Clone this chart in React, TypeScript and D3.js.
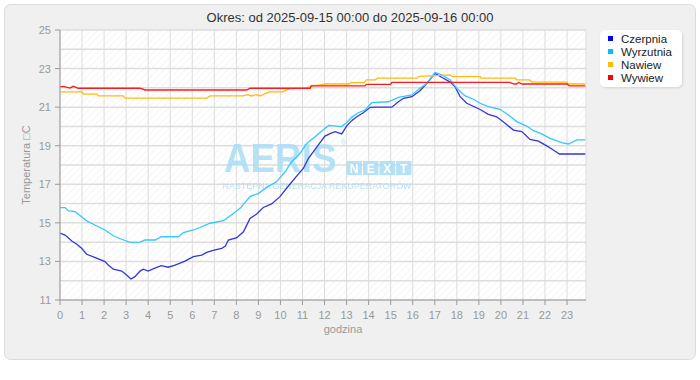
import React from "react";
import * as d3 from "d3";

const titleText = "Okres: od 2025-09-15 00:00 do 2025-09-16 00:00";
const yTicks = [11, 13, 15, 17, 19, 21, 23, 25];
const yGrid = [11, 12, 13, 14, 15, 16, 17, 18, 19, 20, 21, 22, 23, 24, 25];
const xTicks = d3.range(0, 24);

const seriesNames = ["Czerpnia", "Wyrzutnia", "Nawiew", "Wywiew"];
const lineColors = ["#3535dc", "#33c8ff", "#ffbb11", "#ff1a1a"];
const legendColors = ["#0000ff", "#00bfff", "#ffbb00", "#ff0000"];

const czerpnia: [number, number][] = [
  [0, 14.47], [0.25, 14.35], [0.53, 14.06], [0.75, 13.9], [0.98, 13.68], [1.21, 13.37], [1.6, 13.2],
  [2.04, 12.99], [2.2, 12.8], [2.42, 12.6], [2.8, 12.5], [3.02, 12.3], [3.22, 12.09], [3.4, 12.21],
  [3.63, 12.5], [3.78, 12.6], [4.0, 12.5], [4.3, 12.65], [4.6, 12.78], [4.91, 12.7], [5.22, 12.81],
  [5.67, 13.02], [6.05, 13.25], [6.43, 13.33], [6.65, 13.47], [7.03, 13.6], [7.34, 13.68], [7.5, 13.8],
  [7.64, 14.11], [8.02, 14.23], [8.32, 14.54], [8.62, 15.23], [8.92, 15.46], [9.22, 15.8], [9.6, 15.98],
  [9.98, 16.36], [10.36, 16.91], [10.81, 17.53], [11.04, 17.83], [11.27, 18.35], [11.72, 19.04],
  [12.02, 19.5], [12.3, 19.65], [12.48, 19.73], [12.78, 19.61], [13.0, 20.02], [13.23, 20.3],
  [13.46, 20.5], [13.76, 20.71], [14.07, 20.99], [14.29, 21.0], [15.05, 21.0], [15.35, 21.28],
  [15.58, 21.46], [15.96, 21.54], [16.33, 21.85], [16.64, 22.23], [17.01, 22.75], [17.39, 22.5],
  [17.7, 22.3], [17.92, 22.06], [18.15, 21.54], [18.45, 21.2], [19.06, 20.88], [19.43, 20.63],
  [19.81, 20.5], [20.19, 20.16], [20.57, 19.81], [20.95, 19.73], [21.32, 19.33], [21.7, 19.24],
  [22.08, 18.99], [22.38, 18.78], [22.65, 18.57], [23.83, 18.57],
];

const wyrzutnia: [number, number][] = [
  [0, 15.79], [0.23, 15.79], [0.38, 15.62], [0.68, 15.58], [0.98, 15.32], [1.21, 15.1], [1.74, 14.8],
  [2.04, 14.63], [2.42, 14.33], [2.8, 14.15], [3.18, 13.99], [3.63, 14.0], [3.86, 14.11], [4.31, 14.11],
  [4.61, 14.28], [5.37, 14.28], [5.6, 14.5], [6.05, 14.63], [6.27, 14.72], [6.81, 14.98], [7.41, 15.11],
  [7.86, 15.49], [8.17, 15.75], [8.62, 16.36], [9.0, 16.53], [9.38, 16.84], [9.83, 17.14], [10.21, 17.65],
  [10.51, 18.17], [10.89, 18.6], [11.19, 19.12], [11.57, 19.47], [12.02, 19.9], [12.2, 20.05],
  [12.78, 19.99], [13.0, 20.19], [13.23, 20.47], [13.53, 20.71], [13.84, 20.85], [14.14, 21.23],
  [14.9, 21.28], [15.35, 21.51], [15.96, 21.63], [16.33, 21.98], [16.64, 22.23], [17.01, 22.79],
  [17.32, 22.67], [17.7, 22.41], [18.0, 21.98], [18.38, 21.58], [18.75, 21.41], [19.06, 21.2],
  [19.43, 21.03], [19.96, 20.89], [20.34, 20.59], [20.72, 20.25], [21.17, 20.02], [21.47, 19.78],
  [21.85, 19.61], [22.23, 19.38], [22.76, 19.16], [23.06, 19.09], [23.44, 19.3], [23.83, 19.3],
];

const nawiew: [number, number][] = [
  [0, 21.79], [1.0, 21.79], [1.06, 21.68], [1.67, 21.68], [1.74, 21.58], [2.87, 21.58], [2.95, 21.47],
  [6.66, 21.47], [6.81, 21.58], [8.3, 21.58], [8.5, 21.65], [8.7, 21.58], [8.9, 21.65], [9.1, 21.58],
  [9.3, 21.7], [9.5, 21.79], [10.1, 21.79], [10.4, 21.95], [11.2, 22.0], [11.4, 22.1], [11.8, 22.15],
  [12.0, 22.2], [13.1, 22.2], [13.2, 22.27], [13.8, 22.27], [13.9, 22.41], [14.3, 22.41], [14.4, 22.5],
  [16.2, 22.5], [16.3, 22.6], [17.7, 22.67], [17.8, 22.58], [19.06, 22.58], [19.1, 22.5], [20.65, 22.5],
  [20.72, 22.41], [21.3, 22.41], [21.4, 22.3], [23.0, 22.3], [23.05, 22.2], [23.83, 22.2],
];

const wywiew: [number, number][] = [
  [0, 22.06], [0.2, 22.06], [0.45, 21.99], [0.6, 22.08], [0.83, 21.98], [3.63, 21.98], [3.86, 21.89],
  [8.47, 21.89], [8.62, 21.98], [11.35, 21.98], [11.4, 22.1], [13.84, 22.1], [13.9, 22.18], [15.0, 22.18],
  [15.05, 22.28], [20.4, 22.28], [20.6, 22.2], [20.7, 22.2], [20.8, 22.28], [20.95, 22.2], [23.0, 22.2],
  [23.1, 22.1], [23.83, 22.1],
];

const allSeries = [czerpnia, wyrzutnia, nawiew, wywiew];
const nextLetters = ["N", "E", "X", "T"];

const FONT = "'Liberation Sans', Arial, sans-serif";

export default function App() {
  const left = 60, right = 586, top = 30, bottom = 300;
  const x = d3.scaleLinear().domain([0, 23.86]).range([left, right]);
  const y = d3.scaleLinear().domain([11, 25]).range([bottom, top]);
  const line = d3.line<[number, number]>().x(d => x(d[0])).y(d => y(d[1]));

  return (
    <svg width={700} height={380} style={{ position: "absolute", left: 0, top: 0 }} fontFamily={FONT}>
      <defs>
        <pattern id="hatch" width={5} height={5} patternUnits="userSpaceOnUse" patternTransform="rotate(45)">
          <line x1={0} y1={0} x2={0} y2={5} stroke="#ececec" strokeWidth={1} />
        </pattern>
        <filter id="sh" x="-10%" y="-10%" width="130%" height="140%">
          <feDropShadow dx={1} dy={1} stdDeviation={1} floodColor="#000" floodOpacity={0.12} />
        </filter>
        <clipPath id="plotclip">
          <rect x={left} y={top - 2} width={right - left} height={bottom - top + 2} />
        </clipPath>
      </defs>
      <rect x={0} y={0} width={700} height={380} fill="#ffffff" />
      <rect x={4.5} y={4.5} width={691} height={355} rx={6} fill="#f0f0f0" stroke="#dcdcdc" />
      <text x={350} y={22} textAnchor="middle" fontSize={13} fill="#333">{titleText}</text>

      {/* plot background */}
      <rect x={left} y={top} width={right - left} height={bottom - top} fill="#ffffff" />
      <rect x={left} y={top} width={right - left} height={bottom - top} fill="url(#hatch)" />

      {/* grid */}
      {yGrid.map(v => (
        <line key={"gy" + v} x1={left} x2={right} y1={y(v)} y2={y(v)} stroke="#dddddd" strokeWidth={1.5} />
      ))}
      {xTicks.map(h => (
        <line key={"gx" + h} x1={x(h)} x2={x(h)} y1={top} y2={bottom} stroke="#dddddd" strokeWidth={1} />
      ))}
      <line x1={right} x2={right} y1={top} y2={bottom} stroke="#dddddd" strokeWidth={1} />

      {/* watermark */}
      <g opacity={0.85}>
        <text transform="translate(224,172) scale(0.92,1)" fontSize={40} fontWeight="bold" fill="#a9def5">AERIS</text>
        <text x={341} y={145} fontSize={7} fill="#a9def5">®</text>
        {nextLetters.map((c, i) => (
          <g key={c}>
            <rect x={346.5 + i * 16.5} y={161} width={15.5} height={14} fill="#a9def5" />
            <text x={354.2 + i * 16.5} y={172.5} textAnchor="middle" fontSize={12} fontWeight="bold" fill="#ffffff">{c}</text>
          </g>
        ))}
        <text x={222.5} y={188.8} fontSize={8.5} fill="#a9def5" textLength={189} lengthAdjust="spacingAndGlyphs">NASTĘPNA GENERACJA REKUPERATORÓW</text>
      </g>

      {/* series */}
      <g clipPath="url(#plotclip)">
        {allSeries.map((s, i) => (
          <path key={seriesNames[i]} d={line(s) || ""} fill="none" stroke={lineColors[i]} strokeWidth={1.3} />
        ))}
      </g>

      {/* axes */}
      <line x1={left} x2={left} y1={top} y2={bottom} stroke="#999" strokeWidth={1} />
      <line x1={left} x2={right} y1={bottom} y2={bottom} stroke="#999" strokeWidth={1} />
      {yTicks.map(v => (
        <g key={"yt" + v}>
          <line x1={left - 5} x2={left} y1={y(v)} y2={y(v)} stroke="#999" />
          <text x={left - 9} y={y(v) + 4} textAnchor="end" fontSize={11} fill="#999">{v}</text>
        </g>
      ))}
      {xTicks.map(h => (
        <g key={"xt" + h}>
          <line x1={x(h)} x2={x(h)} y1={bottom} y2={bottom + 5} stroke="#999" />
          <text x={x(h)} y={bottom + 19} textAnchor="middle" fontSize={11} fill="#999">{h}</text>
        </g>
      ))}
      <text x={343} y={333} textAnchor="middle" fontSize={11} fill="#999">godzina</text>
      <text transform={`translate(30,${(top + bottom) / 2}) rotate(-90)`} textAnchor="middle" fontSize={11} fill="#999">Temperatura □C</text>

      {/* legend */}
      <rect x={600} y={30} width={82} height={57} rx={5} fill="#ffffff" filter="url(#sh)" />
      {seriesNames.map((n, i) => (
        <g key={"lg" + n}>
          <rect x={608} y={36 + i * 13} width={5} height={5} fill={legendColors[i]} />
          <text x={621} y={42.5 + i * 13} fontSize={11.5} fill="#222">{n}</text>
        </g>
      ))}
    </svg>
  );
}
